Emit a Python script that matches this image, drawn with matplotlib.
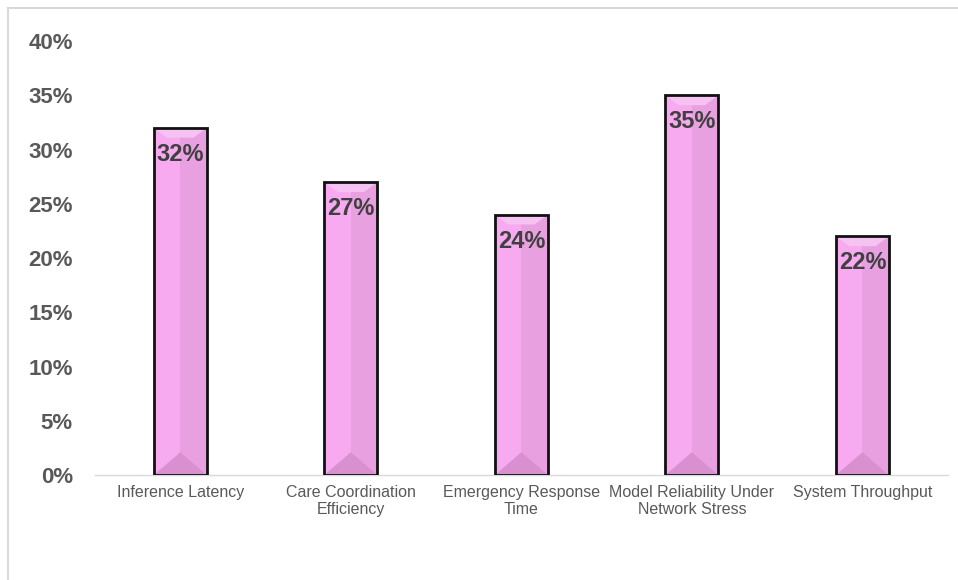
import matplotlib
matplotlib.use("Agg")
import matplotlib.pyplot as plt
from matplotlib.patches import Polygon, Rectangle
from matplotlib.lines import Line2D

categories = ["Inference Latency", "Care Coordination\nEfficiency", "Emergency Response\nTime",
              "Model Reliability Under\nNetwork Stress", "System Throughput"]
values = [0.32, 0.27, 0.24, 0.35, 0.22]
yticks = [0, 0.05, 0.10, 0.15, 0.20, 0.25, 0.30, 0.35, 0.40]

plt.rcParams["font.family"] = ["Liberation Sans", "DejaVu Sans"]

fig = plt.figure(figsize=(9.58, 5.8), dpi=100)
ax = fig.add_axes([0.0992, 0.181, 0.890, 0.748])

w = 0.31
light = "#F7AAF0"
dark = "#E8A0E0"
top_c = "#F6C2F1"
bot_c = "#D990D1"
dt = 0.009
db = 0.021

for i, v in enumerate(values):
    x0, x1, xc = i - w / 2, i + w / 2, i
    ax.add_patch(Rectangle((x0, 0), w / 2, v, facecolor=light, edgecolor="none", zorder=2))
    ax.add_patch(Rectangle((xc, 0), w / 2, v, facecolor=dark, edgecolor="none", zorder=2))
    ax.add_patch(Polygon([(x0, v), (x1, v), (x1 - w * 0.25, v - dt), (x0 + w * 0.25, v - dt)],
                         facecolor=top_c, edgecolor="none", zorder=3))
    ax.add_patch(Polygon([(x0, 0), (x1, 0), (xc, db)], facecolor=bot_c, edgecolor="none", zorder=3))
    ax.add_patch(Rectangle((x0, 0), w, v, facecolor="none", edgecolor="#111111", lw=2, zorder=4))
    ax.annotate(f"{v:.0%}", (xc, v), xytext=(0, -19), textcoords="offset points",
                ha="center", va="center", fontsize=17, fontweight="bold", color="#404040", zorder=5)

ax.set_xlim(-0.5, 4.5)
ax.set_ylim(0, 0.40)
ax.set_yticks(yticks)
ax.set_yticklabels([f"{t:.0%}" for t in yticks], fontsize=16, fontweight="bold", color="#595959")
ax.set_xticks(range(len(categories)))
ax.set_xticklabels(categories, fontsize=11.5, color="#595959", linespacing=1.15)
ax.tick_params(axis="both", length=0)
ax.tick_params(axis="y", pad=16)
ax.tick_params(axis="x", pad=7)
for s in ["top", "right", "left"]:
    ax.spines[s].set_visible(False)
ax.spines["bottom"].set_color("#D9D9D9")
ax.spines["bottom"].set_linewidth(1)

# outer frame
fig.add_artist(Line2D([0.0084, 1.0], [0.986, 0.986], color="#D9D9D9", lw=1.5, transform=fig.transFigure))
fig.add_artist(Line2D([0.0084, 0.0084], [0.0, 0.986], color="#D9D9D9", lw=1.5, transform=fig.transFigure))

fig.savefig("out.png", dpi=100)
